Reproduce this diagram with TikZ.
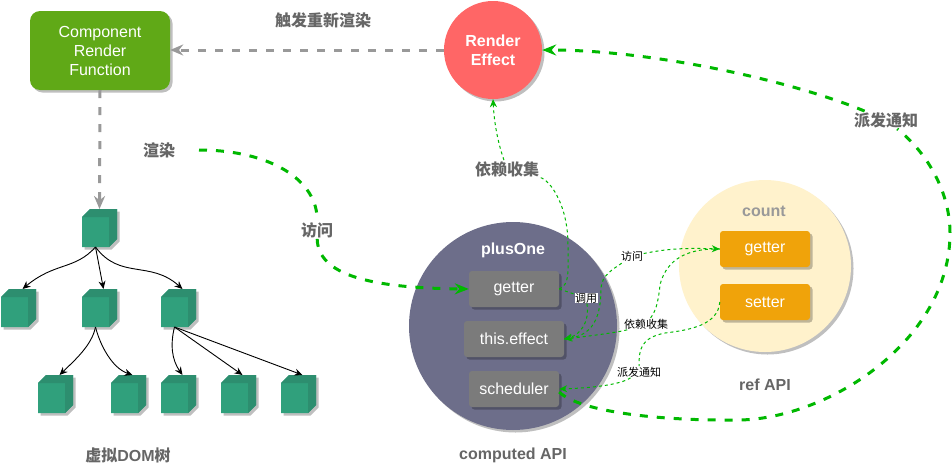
\documentclass[tikz,border=0pt]{standalone}
\usepackage{fontspec}
\setmainfont{Liberation Sans}
\newfontfamily\cjk{Noto Sans CJK SC}
\usetikzlibrary{arrows.meta,shadows}
\definecolor{leafgreen}{HTML}{60A917}
\definecolor{cubefront}{HTML}{30A07C}
\definecolor{cubeside}{HTML}{2D8E6F}
\definecolor{linegreen}{HTML}{00B800}
\definecolor{linegray}{HTML}{999999}
\definecolor{textgray}{HTML}{666666}
\definecolor{planet}{HTML}{6D6E8A}
\definecolor{innerbox}{HTML}{7B7B7B}
\definecolor{amberbox}{HTML}{F0A30A}
\definecolor{cream}{HTML}{FFF2CC}
\definecolor{redball}{HTML}{FF6666}
\tikzset{
	softshadow/.style={drop shadow={shadow xshift=2.5pt, shadow yshift=-2.5pt, fill=black, opacity=0.25}},
	cubebox/.style={rectangle, minimum width=35pt, minimum height=38pt, inner sep=0pt, outer sep=0pt},
	funcbox/.style={rectangle, rounded corners=3pt, minimum height=36pt, text=white, font=\fontsize{16}{16}\selectfont, softshadow, inner sep=0pt},
	zhlabel/.style={fill=white, inner sep=1pt, text=textgray, font=\fontsize{16}{16}\selectfont\cjk\bfseries},
	tinylabel/.style={fill=white, inner sep=0.5pt, text=black, font=\fontsize{11}{11}\selectfont\cjk},
	boldlabel/.style={font=\fontsize{16}{16}\selectfont\bfseries},
	graydash/.style={draw=linegray, line width=3pt, dash pattern=on 8pt off 9pt, -{Stealth[length=13pt,width=11pt]}},
	thickdash/.style={draw=linegreen, line width=3pt, dash pattern=on 8pt off 9pt},
	thindash/.style={draw=linegreen, line width=1pt, dash pattern=on 3pt off 3pt},
	thicktip/.style={-{Stealth[length=14pt,width=11pt]}},
	thintip/.style={-{Stealth[length=8pt,width=7pt]}},
	treeedge/.style={black, line width=0.9pt, -{Stealth[length=8pt,width=7pt]}}
}
\begin{document}
\begin{tikzpicture}[x=1pt, y=-1pt, line join=round]
	\useasboundingbox (0,0) rectangle (952,474);
	% left part
	\node[rectangle, rounded corners=10pt, minimum width=140pt, minimum height=79pt, fill=leafgreen, softshadow, text=white, align=center, font=\fontsize{16}{19}\selectfont] (comp) at (100,50.5) {Component\\Render\\Function};
	\node[circle, minimum size=98pt, inner sep=0pt, fill=redball, softshadow, text=white, align=center, font=\fontsize{16}{19}\selectfont\bfseries] (effect) at (493,50) {Render\\Effect};
	\node[cubebox] (root) at (99.5,228) {};
	\node[cubebox] (a1) at (18.5,308) {};
	\node[cubebox] (a2) at (99.5,308) {};
	\node[cubebox] (a3) at (178.5,308) {};
	\node[cubebox] (b1) at (55.5,394) {};
	\node[cubebox] (b2) at (128.5,394) {};
	\node[cubebox] (b3) at (178.5,394) {};
	\node[cubebox] (b4) at (238.5,394) {};
	\node[cubebox] (b5) at (298.5,394) {};
	\foreach \c in {root,a1,a2,a3,b1,b2,b3,b4,b5} {
		\fill[cubefront, softshadow] ([yshift=-8pt]\c.north west) -- ([xshift=8pt]\c.north west) -- (\c.north east) -- ([yshift=8pt]\c.south east) -- ([xshift=-8pt]\c.south east) -- (\c.south west) -- cycle;
		\fill[cubeside] ([yshift=-8pt]\c.north west) -- ([xshift=8pt]\c.north west) -- (\c.north east) -- ([yshift=8pt]\c.south east) -- ([xshift=-8pt]\c.south east) -- ([xshift=-8pt,yshift=-8pt]\c.north east) -- cycle;
	}
	% right part
	\node[circle, minimum size=208pt, inner sep=0pt, fill=planet, softshadow] (plus) at (513,326) {};
	\node[circle, minimum size=172pt, inner sep=0pt, fill=cream, softshadow] (count) at (765,266) {};
	\node[funcbox, fill=innerbox, minimum width=90pt] (pget) at (514,289) {getter};
	\node[funcbox, fill=innerbox, minimum width=100pt] (peff) at (514,339) {this.effect};
	\node[funcbox, fill=innerbox, minimum width=90pt] (psch) at (514,389) {scheduler};
	\node[funcbox, fill=amberbox, minimum width=90pt] (cget) at (765,249) {getter};
	\node[funcbox, fill=amberbox, minimum width=90pt] (cset) at (765,302) {setter};
	\node[boldlabel, text=white] (ptitle) at (513,250) {plusOne};
	\node[boldlabel, text=linegray] (ctitle) at (764,211) {count};
	\node[boldlabel, text=textgray] (papi) at (513,455) {computed API};
	\node[boldlabel, text=textgray] (rapi) at (765,385) {ref API};
	\node[boldlabel, text=textgray] (dom) at (128,455) {{\cjk 虚拟}DOM{\cjk 树}};
	\node[zhlabel] (lredo) at (323,20) {触发重新渲染};
	\node[zhlabel] (lrend) at (159,150) {渲染};
	\node[zhlabel] (lvisit) at (317,230) {访问};
	\node[zhlabel] (ldep) at (507,169) {依赖收集};
	\node[zhlabel] (lnote) at (886,120) {派发通知};
	\node[tinylabel] (tcall) at (586,298) {调用};
	\node[tinylabel] (tvisit) at (632,256) {访问};
	\node[tinylabel] (tdep) at (646,324) {依赖收集};
	\node[tinylabel] (tnote) at (639,372) {派发通知};
	\coordinate (rstart) at (199,150);
	% gray arrows
	\draw[graydash] (effect.west) -- (comp.east |- effect.west);
	\draw[graydash] (comp.south) -- (root.north);
	% tree
	\draw[treeedge] ([xshift=-4pt]root.south) .. controls (75,270) and (55,262) .. ([xshift=4pt]a1.north);
	\draw[treeedge] ([xshift=-4pt]root.south) -- ([xshift=4pt]a2.north);
	\draw[treeedge] ([xshift=-4pt]root.south) .. controls (120,280) and (150,260) .. ([xshift=4pt]a3.north);
	\draw[treeedge] ([xshift=-4pt]a2.south) .. controls (92,345) and (75,360) .. ([xshift=4pt]b1.north);
	\draw[treeedge] ([xshift=-4pt]a2.south) .. controls (100,345) and (112,368) .. ([xshift=4pt]b2.north);
	\draw[treeedge] ([xshift=-4pt]a3.south) .. controls (170,345) and (172,360) .. ([xshift=4pt]b3.north);
	\draw[treeedge] ([xshift=-4pt]a3.south) -- ([xshift=4pt]b4.north);
	\draw[treeedge] ([xshift=-4pt]a3.south) -- ([xshift=4pt]b5.north);
	% thick green
	\draw[thickdash] (rstart) .. controls (270,150) and (318,180) .. (lvisit);
	\draw[thickdash, thicktip] (lvisit) .. controls (318,275) and (370,288) .. (pget.west);
	\draw[thickdash] ([yshift=-3pt]psch.east) .. controls (580,412) and (660,421) .. (740,420) .. controls (830,418) and (950,340) .. (950,233) .. controls (950,195) and (930,155) .. (lnote);
	\draw[thickdash, thicktip] (lnote) .. controls (790,80) and (650,50) .. (effect.east);
	% thin green
	\draw[thindash] (pget.east) .. controls (570,285) and (568,270) .. (568,245) .. controls (568,205) and (550,180) .. (ldep);
	\draw[thindash, thintip] (ldep) .. controls (497,140) and (494,120) .. (effect.south);
	\draw[thindash] (pget.east) -- (tcall);
	\draw[thindash, thintip] (tcall) .. controls (590,322) and (580,335) .. (peff.east);
	\draw[thindash] (peff.east) .. controls (588,337) and (601,325) .. (601,288) .. controls (602,275) and (612,270) .. (tvisit);
	\draw[thindash, thintip] (tvisit) .. controls (670,248) and (690,248) .. (cget.west);
	\draw[thindash] (cget.west) .. controls (680,248) and (665,265) .. (660,285) .. controls (658,305) and (655,312) .. (tdep);
	\draw[thindash, thintip] (tdep) .. controls (620,332) and (590,336) .. (peff.east);
	\draw[thindash] (cset.west) .. controls (718,325) and (690,330) .. (665,333) .. controls (640,338) and (639,350) .. (tnote);
	\draw[thindash, thintip] (tnote) .. controls (620,385) and (590,388) .. (psch.east);
\end{tikzpicture}
\end{document}
